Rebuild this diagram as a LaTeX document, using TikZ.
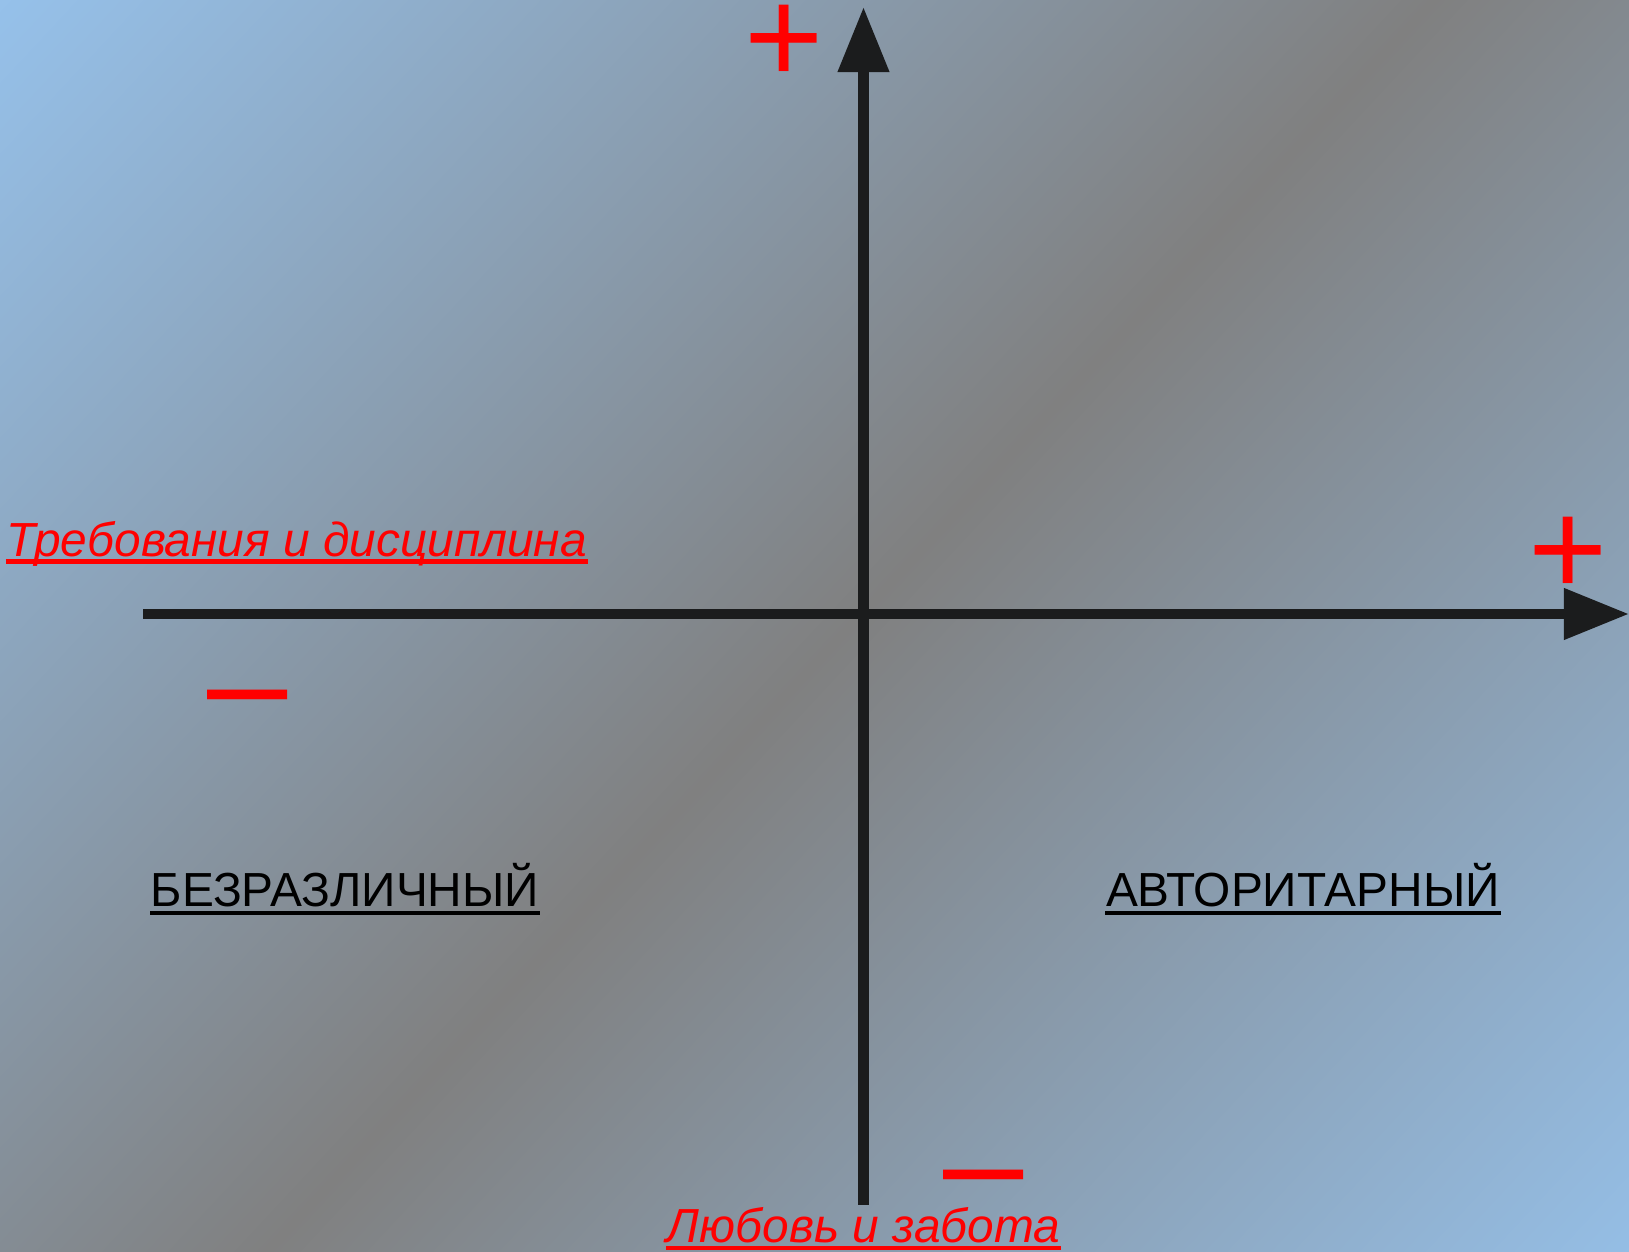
\documentclass[tikz,border=0pt]{standalone}
\usepackage{fontspec}
\setmainfont{Liberation Sans}
\usetikzlibrary{arrows.meta}

\definecolor{bgblue}{RGB}{150,194,236}
\definecolor{bggray}{RGB}{128,128,128}
\definecolor{axisblack}{RGB}{27,28,29}
\definecolor{signred}{RGB}{255,0,0}

\tikzset{
  axisline/.style={draw=axisblack, line width=3pt, -{Triangle[length=6.5mm,width=4.9mm]}},
  plussign/.style={text=signred, inner sep=0pt, font=\fontsize{38.6pt}{40pt}\selectfont},
  minussign/.style={text=signred, inner sep=0pt, font=\fontsize{41pt}{42pt}\selectfont},
  quadlbl/.style={inner sep=0pt, anchor=base, font=\fontsize{13.6pt}{16pt}\selectfont},
  scalelbl/.style={inner sep=0pt, text=signred, font=\fontsize{13.6pt}{16pt}\selectfont\itshape},
  uline/.style={line width=1.4pt},
}

\begin{document}
\begin{tikzpicture}[x=0.01cm,y=-0.01cm]
            \useasboundingbox (0,0) rectangle (1629,1252);

            % background
            \begin{scope}
                \clip (0,0) rectangle (1629,1252);
                \begin{scope}[transform canvas={shift={(850,626)}, rotate=47}]
                    \shade[top color=bgblue, bottom color=bgblue, middle color=bggray]
                        (-1250,-1065) rectangle (1250,1065);
                \end{scope}
            \end{scope}

            % axes
            \coordinate (xstart) at (143,614);
            \coordinate (xend) at (1629,614);
            \coordinate (ystart) at (863.5,1205);
            \coordinate (yend) at (863.5,7);
            \draw[axisline] (xstart) -- (xend);
            \draw[axisline] (ystart) -- (yend);

            % plus and minus
            \node[plussign] (plustop) at (784,44.5) {+};
            \node[plussign] (plusright) at (1568,556.5) {+};
            \node[minussign] (minusleft) at (248,710.5) {–};
            \node[minussign] (minusbottom) at (984,1190.5) {–};

            % scale names
            \node[scalelbl, anchor=base west] (demand) at (6,557) {Требования и дисциплина};
            \node[scalelbl, anchor=base] (love) at (863.5,1242) {Любовь и забота};
            \draw[uline, signred] ([yshift=-0.045cm]demand.base west) -- ([yshift=-0.045cm]demand.base east);
            \draw[uline, signred] ([yshift=-0.06cm]love.base west) -- ([yshift=-0.06cm]love.base east);

            % styles
            \node[quadlbl] (indiff) at (345,907) {БЕЗРАЗЛИЧНЫЙ};
            \node[quadlbl] (auth) at (1303,907) {АВТОРИТАРНЫЙ};
            \draw[uline] ([yshift=-0.06cm]indiff.base west) -- ([yshift=-0.06cm]indiff.base east);
            \draw[uline] ([yshift=-0.06cm]auth.base west) -- ([yshift=-0.06cm]auth.base east);
\end{tikzpicture}
\end{document}
